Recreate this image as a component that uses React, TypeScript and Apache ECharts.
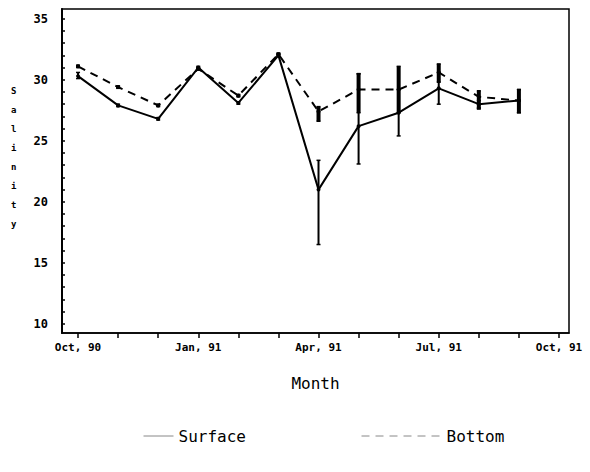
import React, { useEffect, useRef } from "react";
import * as echarts from "echarts";

// Month index: 0 = Oct 90 ... 12 = Oct 91
const months = [0, 1, 2, 3, 4, 5, 6, 7, 8, 9, 10, 11];
const xTickLabels: Record<number, string> = { 0: "Oct, 90", 3: "Jan, 91", 6: "Apr, 91", 9: "Jul, 91", 12: "Oct, 91" };
const yTickLabels = [10, 15, 20, 25, 30, 35];

const surface = [30.3, 27.9, 26.8, 31.0, 28.1, 32.0, 21.0, 26.2, 27.3, 29.3, 28.0, 28.3];
const surfaceLow = [30.1, 27.8, 26.7, 30.9, 28.0, 31.9, 16.5, 23.1, 25.4, 28.0, 27.7, 27.3];
const surfaceHigh = [30.6, 28.0, 26.9, 31.1, 28.2, 32.1, 23.4, 30.5, 29.2, 30.6, 28.3, 29.2];

const bottom = [31.1, 29.4, 27.9, 30.9, 28.7, 32.1, 27.4, 29.2, 29.2, 30.6, 28.6, 28.3];
const bottomLow = [31.0, 29.3, 27.8, 30.8, 28.6, 32.0, 26.6, 27.3, 27.3, 29.8, 27.6, 27.3];
const bottomHigh = [31.2, 29.5, 28.0, 31.0, 28.8, 32.2, 27.8, 30.5, 31.1, 31.3, 29.1, 29.2];

const FONT = "DejaVu Sans Mono";

export default function App() {
  const ref = useRef<HTMLDivElement>(null);
  useEffect(() => {
    if (!ref.current) return;
    document.body.style.margin = "0";
    const chart = echarts.init(ref.current, null, { renderer: "svg" });
    const errRender = (width: number, cap: number) => (params: any, api: any) => {
      const x = api.value(0);
      const lo = api.value(1);
      const hi = api.value(2);
      const p1 = api.coord([x, lo]);
      const p2 = api.coord([x, hi]);
      const st = { stroke: "#000", lineWidth: width };
      const capSt = { stroke: "#000", lineWidth: 1.5 };
      return {
        type: "group",
        children: [
          { type: "line", shape: { x1: p1[0], y1: p1[1], x2: p2[0], y2: p2[1] }, style: st },
          { type: "line", shape: { x1: p1[0] - cap, y1: p1[1], x2: p1[0] + cap, y2: p1[1] }, style: capSt },
          { type: "line", shape: { x1: p2[0] - cap, y1: p2[1], x2: p2[0] + cap, y2: p2[1] }, style: capSt },
        ],
      };
    };
    const yTicks: number[] = [];
    for (let v = 10; v <= 35; v++) yTicks.push(v);
    chart.setOption({
      animation: false,
      backgroundColor: "#fff",
      grid: { left: 62, right: 21, top: 9, bottom: 139, show: true, borderColor: "#000", borderWidth: 1.5 },
      xAxis: {
        type: "value",
        min: -0.4,
        max: 12.25,
        axisLine: { show: true, onZero: false, lineStyle: { color: "#000", width: 1.5 } },
        axisTick: { show: true, customValues: [0, 1, 2, 3, 4, 5, 6, 7, 8, 9, 10, 11, 12], length: 5, lineStyle: { color: "#000", width: 1.5 } },
        axisLabel: {
          customValues: [0, 3, 6, 9, 12],
          formatter: (v: number) => xTickLabels[Math.round(v)] ?? "",
          color: "#000",
          fontFamily: FONT,
          fontSize: 11,
          fontWeight: "bold",
          margin: 9,
        },
        splitLine: { show: false },
        name: "Month",
        nameLocation: "middle",
        nameGap: 42,
        nameTextStyle: { color: "#000", fontFamily: FONT, fontSize: 16 },
      },
      yAxis: {
        type: "value",
        min: 9.25,
        max: 35.8,
        axisLine: { show: true, onZero: false, lineStyle: { color: "#000", width: 2 } },
        axisTick: { show: true, inside: true, customValues: yTicks, length: 3, lineStyle: { color: "#000", width: 1.5 } },
        axisLabel: {
          customValues: yTickLabels,
          color: "#000",
          fontFamily: FONT,
          fontSize: 12,
          fontWeight: "bold",
          margin: 14,
        },
        splitLine: { show: false },
      },
      graphic: [
        {
          type: "text",
          left: 11,
          top: 81,
          style: {
            text: "S\na\nl\ni\nn\ni\nt\ny",
            fontFamily: FONT,
            fontSize: 9,
            fontWeight: "bold",
            lineHeight: 19,
            fill: "#000",
            align: "center",
          },
        },
      ],
      legend: [
        {
          data: ["Surface"],
          left: 138,
          top: 423,
          itemWidth: 30,
          itemHeight: 10,
          itemGap: 6,
          itemStyle: { opacity: 0 },
          lineStyle: { color: "#888", width: 1 },
          textStyle: { color: "#000", fontFamily: FONT, fontSize: 16 },
        },
        {
          data: ["Bottom"],
          left: 356,
          top: 423,
          itemWidth: 80,
          itemHeight: 10,
          itemStyle: { opacity: 0 },
          lineStyle: { color: "#888", width: 1 },
          textStyle: { color: "#000", fontFamily: FONT, fontSize: 16 },
        },
      ],
      series: [
        {
          name: "Surface",
          type: "line",
          data: months.map((m, i) => [m, surface[i]]),
          symbol: "circle",
          symbolSize: 4,
          itemStyle: { color: "#000" },
          lineStyle: { color: "#000", width: 2, type: "solid" },
          z: 3,
        },
        {
          name: "Bottom",
          type: "line",
          data: months.map((m, i) => [m, bottom[i]]),
          symbol: "circle",
          symbolSize: 4,
          itemStyle: { color: "#000" },
          lineStyle: { color: "#000", width: 2, type: [8, 6] },
          z: 3,
        },
        {
          name: "Surface error",
          type: "custom",
          data: months.map((m, i) => [m, surfaceLow[i], surfaceHigh[i]]),
          encode: { x: 0, y: [1, 2] },
          renderItem: errRender(2, 2),
          z: 2,
        },
        {
          name: "Bottom error",
          type: "custom",
          data: months.map((m, i) => [m, bottomLow[i], bottomHigh[i]]),
          encode: { x: 0, y: [1, 2] },
          renderItem: errRender(4, 2),
          z: 2,
        },
      ],
    });
    return () => chart.dispose();
  }, []);
  return <div ref={ref} style={{ width: 590, height: 472 }} />;
}
